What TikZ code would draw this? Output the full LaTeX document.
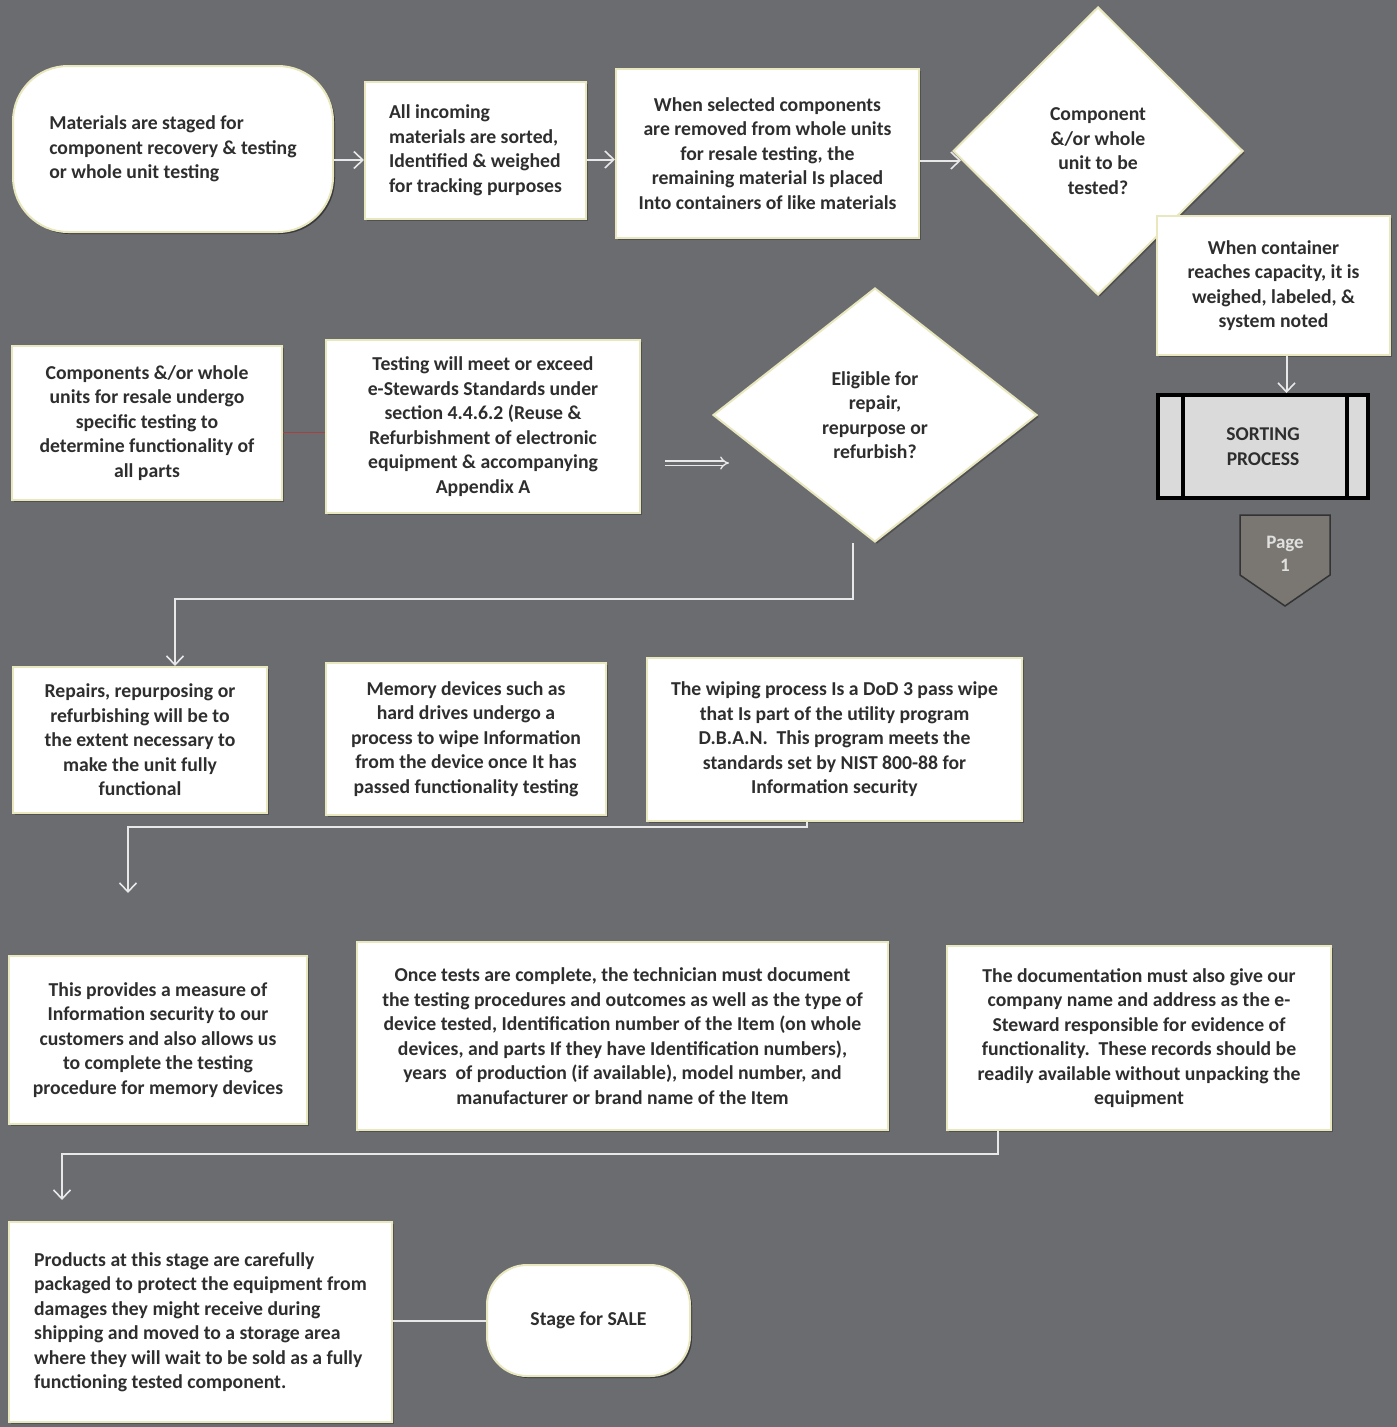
\documentclass[tikz,border=0pt]{standalone}
\usepackage{fontspec}
\setmainfont{Carlito}
\usetikzlibrary{arrows.meta,shapes.geometric,shadows}
\definecolor{bgc}{HTML}{6B6C70}
\definecolor{edgec}{HTML}{E9E7BE}
\definecolor{txtc}{HTML}{2E2E2E}
\definecolor{linec}{HTML}{E8E8E8}
\definecolor{sortfill}{HTML}{DADADA}
\definecolor{pagefill}{HTML}{7A7772}
\tikzset{
  box/.style={draw=edgec, line width=2pt, fill=white, text=txtc, inner sep=0pt,
    font=\bfseries\fontsize{19.7}{24.5}\selectfont, align=center,
    general shadow={fill=black, opacity=0.25, shadow xshift=2pt, shadow yshift=-2pt}},
  boxl/.style={box, align=left},
  pill/.style={box, rounded corners=#1},
  dia/.style={box, diamond, inner sep=0pt},
  conn/.style={draw=linec, line width=2pt},
  arr/.style={conn, -{Straight Barb[length=9pt,width=17pt,line width=1.6pt]}},
  dbl/.style={draw=linec, line width=1.4pt, double=bgc, double distance=3pt, -{Implies[length=8pt]}},
}
\begin{document}
\begin{tikzpicture}[x=1pt,y=-1pt]
\fill[bgc] (0,0) rectangle (1397,1427);
\useasboundingbox (0,0) rectangle (1397,1427);

% row 1
\node[pill=55pt, boxl, minimum width=320, minimum height=166] (mat) at (173,149)
  {Materials are staged for\\component recovery \& testing\\or whole unit testing};
\node[boxl, minimum width=221, minimum height=137] (srt) at (475.5,150.5)
  {All incoming\\materials are sorted,\\Identified \& weighed\\for tracking purposes};
\node[box, minimum width=303, minimum height=169] (rem) at (767.5,153.5)
  {When selected components\\are removed from whole units\\for resale testing, the\\remaining material Is placed\\Into containers of like materials};
\node[dia, minimum width=290, minimum height=288] (d1) at (1098,151)
  {Component\\\&/or whole\\unit to be\\tested?};
\node[box, minimum width=233, minimum height=139] (cont) at (1273.5,285.5)
  {When container\\reaches capacity, it is\\weighed, labeled, \&\\system noted};

% sorting process
\node[draw=black, line width=4pt, fill=sortfill, text=txtc, inner sep=0pt,
  minimum width=210, minimum height=103, font=\bfseries\fontsize{19.5}{24.5}\selectfont, align=center]
  (sp) at (1263,446.5) {SORTING\\PROCESS};
\draw[line width=4pt] ([xshift=27pt]sp.north west) -- ([xshift=27pt]sp.south west);
\draw[line width=4pt] ([xshift=-23pt]sp.north east) -- ([xshift=-23pt]sp.south east);

% page connector
\filldraw[fill=pagefill, draw=black!80, line width=1.5pt]
  (1240,515) -- (1330,515) -- (1330,575) -- (1285,606) -- (1240,575) -- cycle;
\node[text=black!12, font=\bfseries\fontsize{19}{23}\selectfont, align=center] (pg) at (1285,554) {Page\\1};

% row 2
\node[box, minimum width=270, minimum height=154] (comp) at (147,423)
  {Components \&/or whole\\units for resale undergo\\specific testing to\\determine functionality of\\all parts};
\node[box, minimum width=314, minimum height=173] (test) at (483,426.5)
  {Testing will meet or exceed\\e-Stewards Standards under\\section 4.4.6.2 (Reuse \&\\Refurbishment of electronic\\equipment \& accompanying\\Appendix A};
\node[dia, minimum width=324, minimum height=254] (d2) at (875,415)
  {Eligible for\\repair,\\repurpose or\\refurbish?};

% row 3
\node[box, minimum width=254, minimum height=146] (rep) at (140,740)
  {Repairs, repurposing or\\refurbishing will be to\\the extent necessary to\\make the unit fully\\functional};
\node[box, minimum width=280, minimum height=152] (mem) at (466,739)
  {Memory devices such as\\hard drives undergo a\\process to wipe Information\\from the device once It has\\passed functionality testing};
\node[box, minimum width=375, minimum height=163] (wipe) at (834.5,739.5)
  {The wiping process Is a DoD 3 pass wipe\\that Is part of the utility program\\D.B.A.N.\ \ This program meets the\\standards set by NIST 800-88 for\\Information security};

% row 4
\node[box, minimum width=298, minimum height=168] (prov) at (158,1040)
  {This provides a measure of\\Information security to our\\customers and also allows us\\to complete the testing\\procedure for memory devices};
\node[box, minimum width=531, minimum height=188] (once) at (622.5,1036)
  {Once tests are complete, the technician must document\\the testing procedures and outcomes as well as the type of\\device tested, Identification number of the Item (on whole\\devices, and parts If they have Identification numbers),\\years\ \ of production (if available), model number, and\\manufacturer or brand name of the Item};
\node[box, minimum width=384, minimum height=184] (doc) at (1139,1038)
  {The documentation must also give our\\company name and address as the e-\\Steward responsible for evidence of\\functionality.\ \ These records should be\\readily available without unpacking the\\equipment};

% row 5
\node[boxl, minimum width=383, minimum height=200] (prod) at (200.5,1322)
  {Products at this stage are carefully\\packaged to protect the equipment from\\damages they might receive during\\shipping and moved to a storage area\\where they will wait to be sold as a fully\\functioning tested component.};
\node[pill=40pt, box, minimum width=203, minimum height=111] (sale) at (588.5,1320.5)
  {Stage for SALE};

% connectors
\draw[arr] ([yshift=-11pt]mat.east) -- ([yshift=-11pt]mat.east -| srt.west);
\draw[arr] ([yshift=-9pt]srt.east) -- ([yshift=-9pt]srt.east -| rem.west);
\draw[arr] ([yshift=-7pt]rem.east) -- ([xshift=9pt,yshift=-9.5pt]d1.west);
\draw[arr] ([xshift=13pt]cont.south) -- ([xshift=13pt]cont.south |- sp.north);
\draw[draw=red!40!bgc, line width=0.8pt] ([yshift=-9pt]comp.east) -- ([yshift=-9pt]comp.east -| test.west);
\coordinate (ds) at (665,463);
\coordinate (de) at (729,463);
\draw[dbl] (ds) -- (de);
\draw[arr] ([xshift=-22pt]d2.south) -- ++(0,56) -| ([xshift=35pt]rep.north);
\coordinate (a1) at (128,893);
\draw[arr] ([xshift=-28pt]wipe.south) -- ++(0,5) -| (a1);
\coordinate (a2) at (62,1200);
\draw[arr] ([xshift=-141pt]doc.south) -- ++(0,23) -| (a2);
\draw[conn] (sale.west -| prod.east) -- (sale.west);
\end{tikzpicture}
\end{document}
